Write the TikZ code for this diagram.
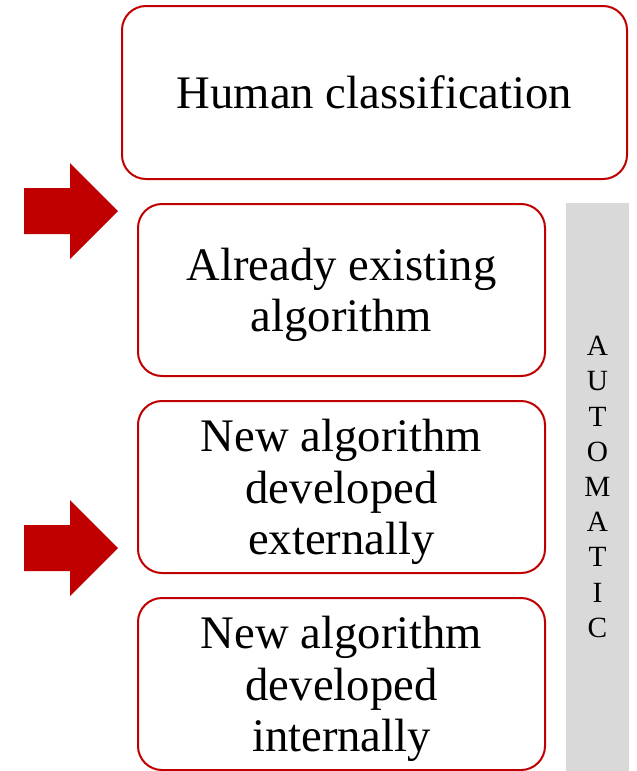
\documentclass[tikz,border=0pt]{standalone}
\usepackage{fontspec}
\setmainfont{Liberation Serif}
\usetikzlibrary{positioning}
\definecolor{boxred}{HTML}{C00000}
\definecolor{bargray}{HTML}{D9D9D9}
\tikzset{stage box/.style={rectangle,rounded corners=18pt,draw=boxred,line width=1.5pt,fill=white,align=center,inner sep=0pt,outer sep=0pt,font=\fontsize{35}{38.5}\selectfont},
	low box/.style={stage box,minimum width=305.25pt,minimum height=129pt,text depth=0pt},
	auto bar/.style={rectangle,fill=bargray,align=center,inner sep=0pt,outer sep=0pt,minimum width=47.25pt,minimum height=426pt,font=\fontsize{22}{26.4}\selectfont},
	big arrow/.style={fill=boxred}
}

\begin{document}
\begin{tikzpicture}[x=0.75pt,y=-0.75pt]
				\useasboundingbox (0,0) rectangle (636,771);
				
				\node[stage box,minimum width=378.75pt,minimum height=129.75pt] (human) at (374.5,92.5) {Human classification};
				\node[low box] (existing) [below right=18.75pt and 12pt of human.south west] {Already existing\\algorithm};
				\node[low box] (external) [below=18.75pt of existing] {New algorithm\\developed\\externally};
				\node[low box] (internal) [below=18.75pt of external] {New algorithm\\developed\\internally};
				\node[auto bar] (automatic) [right=15.75pt of existing.north east,anchor=north west,yshift=0.75pt] {A\\U\\T\\O\\M\\A\\T\\I\\C};
				
				\foreach \y in {211,548}
					\fill[big arrow] (24,\y-23) -- (70,\y-23) -- (70,\y-48) -- (118,\y) -- (70,\y+48) -- (70,\y+23) -- (24,\y+23) -- cycle;
				
			\end{tikzpicture}
\end{document}
